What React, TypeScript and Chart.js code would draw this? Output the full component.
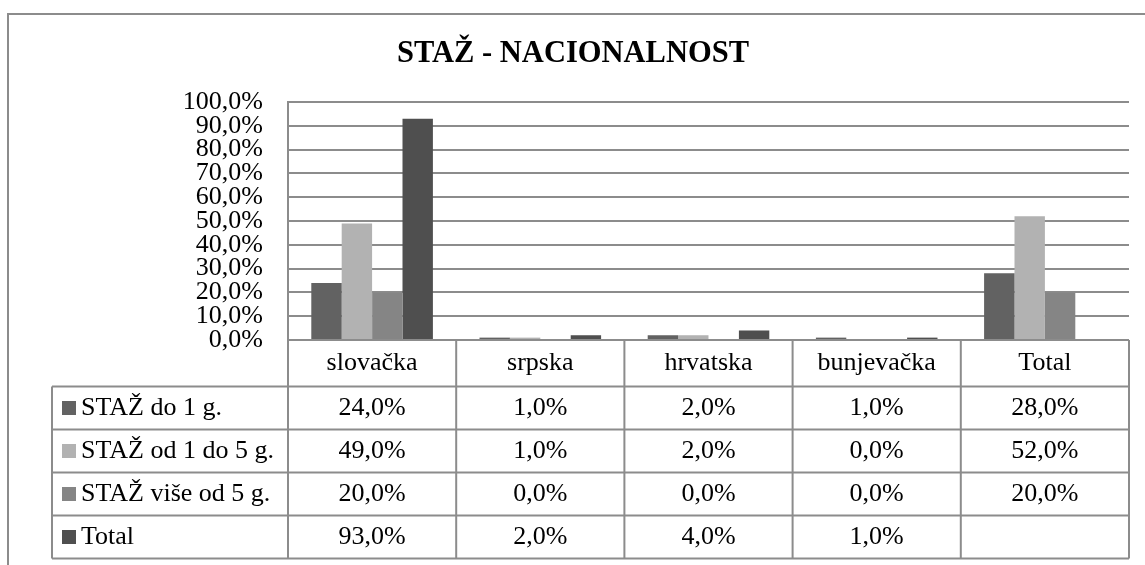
import React, { useEffect, useRef } from 'react';
import { Chart, registerables } from 'chart.js';

Chart.register(...registerables);

const chartTitle = 'STAŽ - NACIONALNOST';
const categories = ['slovačka', 'srpska', 'hrvatska', 'bunjevačka', 'Total'];
const seriesNames = ['STAŽ do 1 g.', 'STAŽ od 1 do 5 g.', 'STAŽ više od 5 g.', 'Total'];
const stazDo1 = [24, 1, 2, 1, 28];
const stazOd1Do5 = [49, 1, 2, 0, 52];
const stazViseOd5 = [20, 0, 0, 0, 20];
const totalSeries: (number | null)[] = [93, 2, 4, 1, null];
const seriesColors = ['#626262', '#b2b2b2', '#858585', '#4f4f4f'];
const yMin = 0;
const yMax = 100;
const yStep = 10;

const FONT = '"Liberation Serif", "Times New Roman", serif';
const LINE = '#8c8c8c';

const fmt = (v: number | null) => (v === null || v === undefined ? '' : v.toFixed(1).replace('.', ',') + '%');

const tablePlugin = {
  id: 'excelTable',
  beforeDraw(chart: any) {
    const { ctx, width, height } = chart;
    ctx.save();
    ctx.fillStyle = '#ffffff';
    ctx.fillRect(0, 0, width, height);
    ctx.strokeStyle = LINE;
    ctx.lineWidth = 2;
    ctx.beginPath();
    ctx.moveTo(8, height);
    ctx.lineTo(8, 14);
    ctx.lineTo(width, 14);
    ctx.stroke();
    ctx.fillStyle = '#000';
    ctx.font = 'bold 30.5px ' + FONT;
    ctx.textAlign = 'center';
    ctx.textBaseline = 'alphabetic';
    ctx.fillText(chartTitle, 573, 62);
    ctx.restore();
  },
  afterDraw(chart: any) {
    const { ctx, chartArea: ca } = chart;
    const xs = chart.scales.x;
    const n = categories.length;
    const colW = (ca.right - ca.left) / n;
    const headerTop = ca.bottom;
    const headerBot = ca.bottom + 46.5;
    const rowH = 43;
    const tableLeft = 52;
    const datasets = chart.data.datasets;
    const rows = datasets.length;
    const tableBottom = headerBot + rows * rowH;
    ctx.save();
    ctx.strokeStyle = LINE;
    ctx.lineWidth = 2;
    ctx.beginPath();
    for (let r = 0; r <= rows; r++) {
      const y = headerBot + r * rowH;
      ctx.moveTo(tableLeft, y);
      ctx.lineTo(ca.right, y);
    }
    for (let i = 0; i <= n; i++) {
      const x = ca.left + i * colW;
      ctx.moveTo(x, headerTop);
      ctx.lineTo(x, tableBottom);
    }
    ctx.moveTo(tableLeft, headerBot);
    ctx.lineTo(tableLeft, tableBottom);
    ctx.stroke();

    ctx.fillStyle = '#000';
    ctx.font = '26px ' + FONT;
    ctx.textBaseline = 'middle';
    ctx.textAlign = 'center';
    categories.forEach((c, i) => {
      ctx.fillText(c, xs.getPixelForValue(i), (headerTop + headerBot) / 2);
    });
    datasets.forEach((ds: any, r: number) => {
      const yc = headerBot + r * rowH + rowH / 2;
      ctx.fillStyle = ds.backgroundColor;
      ctx.fillRect(62, yc - 7, 14, 14);
      ctx.fillStyle = '#000';
      ctx.textAlign = 'left';
      ctx.fillText(ds.label, 81, yc);
      ctx.textAlign = 'center';
      ds.data.forEach((v: number | null, i: number) => {
        ctx.fillText(fmt(v), xs.getPixelForValue(i), yc);
      });
    });
    ctx.restore();
  },
};

export default function App() {
  const ref = useRef<HTMLCanvasElement>(null);
  useEffect(() => {
    if (!ref.current) return;
    const seriesData = [stazDo1, stazOd1Do5, stazViseOd5, totalSeries];
    const chart = new Chart(ref.current, {
      type: 'bar',
      data: {
        labels: categories,
        datasets: seriesNames.map((name, k) => ({
          label: name,
          data: seriesData[k],
          backgroundColor: seriesColors[k],
          borderWidth: 0,
          categoryPercentage: 0.723,
          barPercentage: 1,
        })),
      },
      options: {
        responsive: false,
        animation: false,
        layout: { padding: { left: 8, top: 102, right: 16, bottom: 225 } },
        plugins: {
          legend: { display: false },
          title: { display: false },
          tooltip: { enabled: false },
        },
        scales: {
          x: { display: false, offset: true, grid: { display: false } },
          y: {
            min: yMin,
            max: yMax,
            afterFit: (scale: any) => {
              scale.width = 280;
            },
            ticks: {
              stepSize: yStep,
              autoSkip: false,
              padding: 25,
              color: '#000',
              font: { family: FONT, size: 26 },
              callback: (v: any) => Number(v).toFixed(1).replace('.', ',') + '%',
            },
            grid: { color: LINE, lineWidth: 2, drawTicks: false },
            border: { display: true, color: LINE, width: 2 },
          },
        },
      },
      plugins: [tablePlugin],
    });
    return () => chart.destroy();
  }, []);
  return (
    <div style={{ position: 'absolute', left: 0, top: 0, width: 1145, height: 565 }}>
      <canvas ref={ref} width={1145} height={565} style={{ display: 'block' }} />
    </div>
  );
}
